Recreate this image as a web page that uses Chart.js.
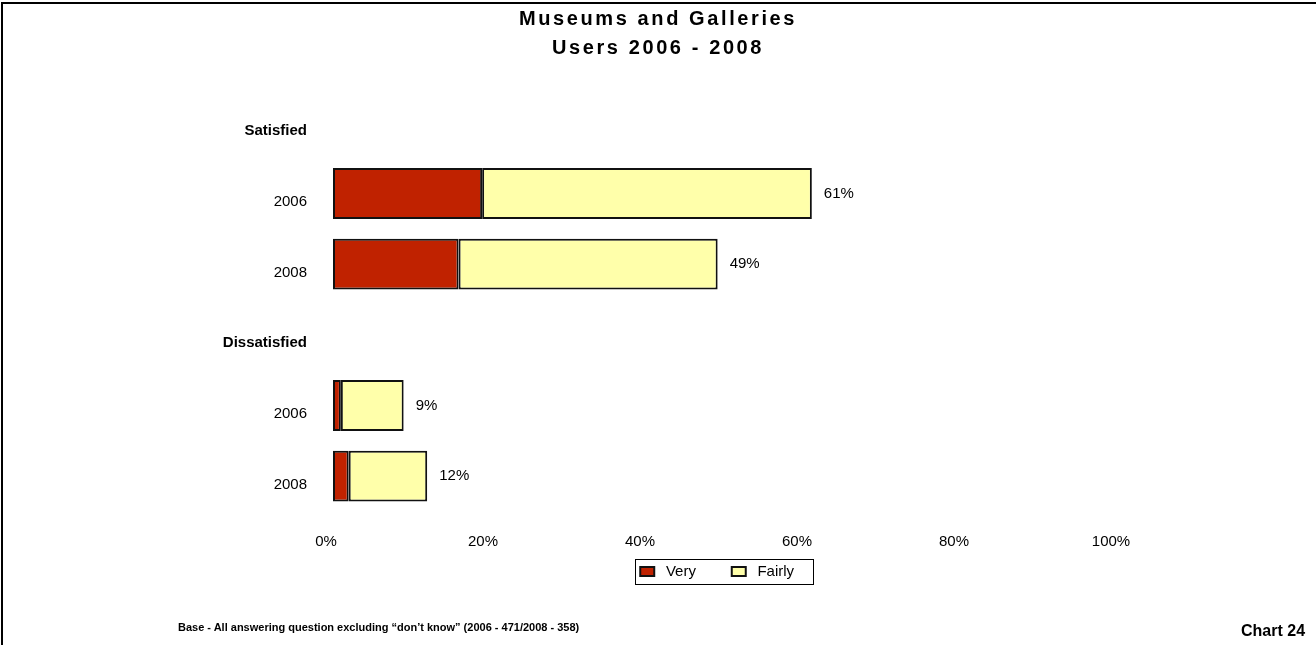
<!DOCTYPE html>
<html>
<head>
<meta charset="utf-8">
<title>Museums and Galleries</title>
<script src="https://cdn.jsdelivr.net/npm/chart.js@4/dist/chart.umd.min.js"></script>
<style>
  html, body { margin: 0; padding: 0; background: #fff; }
  #page { position: relative; width: 1316px; height: 645px; overflow: hidden; font-family: "Liberation Sans", Arial, sans-serif; color: #000; }
  #frame { position: absolute; left: 1px; top: 2px; right: -4px; bottom: -4px; border-top: 2px solid #000; border-left: 2px solid #000; }
  #chart { position: absolute; left: 0; top: 0; }
  #title { position: absolute; left: 0; width: 1316px; top: 4px; text-align: center; font-weight: bold; font-size: 20px; line-height: 29px; letter-spacing: 2.6px; }
  #base { position: absolute; left: 178px; top: 621px; font-weight: bold; font-size: 11px; }
  #chartno { position: absolute; left: 1241px; top: 622px; font-weight: bold; font-size: 16px; }
</style>
</head>
<body>
<div id="page">
  <div id="frame"></div>
  <canvas id="chart" width="1316" height="645"></canvas>
  <div id="title">Museums and Galleries<br>Users 2006 - 2008</div>
  <div id="base">Base - All answering question excluding “don’t know” (2006 - 471/2008 - 358)</div>
  <div id="chartno">Chart 24</div>
</div>
<script>
const categories = ['Satisfied', '2006', '2008', 'Dissatisfied', '2006', '2008'];
const headerRows = [0, 3];
const very   = [null, 19, 16, null, 1, 2];
const fairly = [null, 42, 33, null, 8, 10];
const xTicks = [0, 20, 40, 60, 80, 100];

const FONT = '"Liberation Sans", Arial, sans-serif';

// total of each bar, written just past its end
const totalLabels = {
  id: 'totalLabels',
  afterDatasetsDraw(chart) {
    const ctx = chart.ctx;
    const meta = chart.getDatasetMeta(1);
    ctx.save();
    ctx.font = '15px ' + FONT;
    ctx.fillStyle = '#000';
    ctx.textAlign = 'left';
    ctx.textBaseline = 'middle';
    meta.data.forEach((bar, i) => {
      if (very[i] == null) return;
      const total = very[i] + fairly[i];
      ctx.fillText(total + '%', bar.x + 12, bar.y);
    });
    ctx.restore();
  }
};

// thin box round the legend items
const legendFrame = {
  id: 'legendFrame',
  afterDraw(chart) {
    const boxes = chart.legend.legendHitBoxes;
    if (!boxes || !boxes.length) return;
    const first = boxes[0], last = boxes[boxes.length - 1];
    const x0 = first.left - 5, x1 = last.left + last.width + 2;
    const y0 = first.top - 5, y1 = first.top + first.height + 5;
    const ctx = chart.ctx;
    ctx.save();
    ctx.strokeStyle = '#000';
    ctx.lineWidth = 1;
    ctx.strokeRect(Math.round(x0) + 0.5, Math.round(y0) + 0.5, Math.round(x1 - x0), Math.round(y1 - y0));
    ctx.restore();
  }
};

new Chart(document.getElementById('chart'), {
  type: 'bar',
  data: {
    labels: categories,
    datasets: [
      { label: ' Very     ', data: very, backgroundColor: '#c02200', borderColor: '#111', borderWidth: 2, borderSkipped: false, barPercentage: 0.72, categoryPercentage: 1 },
      { label: ' Fairly    ', data: fairly, backgroundColor: '#ffffaa', borderColor: '#111', borderWidth: 2, borderSkipped: false, barPercentage: 0.72, categoryPercentage: 1 }
    ]
  },
  options: {
    indexAxis: 'y',
    responsive: false,
    animation: false,
    layout: { padding: { left: 0, right: 198, top: 87.5, bottom: 56 } },
    scales: {
      x: {
        stacked: true,
        min: 0,
        max: 100,
        afterBuildTicks: s => { s.ticks = xTicks.map(v => ({ value: v })); },
        afterFit: s => { s.height = 37.5; },
        grid: { display: false, drawTicks: false },
        border: { display: false },
        ticks: { color: '#000', font: { family: FONT, size: 15 }, padding: 21.5, labelOffset: -7, callback: v => v + '%' }
      },
      y: {
        stacked: true,
        afterFit: s => { s.width = 333; },
        grid: { display: false, drawTicks: false },
        border: { display: false },
        ticks: {
          color: '#000',
          padding: 26,
          labelOffset: 8.5,
          font: c => ({ family: FONT, size: 15, weight: headerRows.includes(c.index) ? 'bold' : 'normal' })
        }
      }
    },
    plugins: {
      title: { display: false },
      tooltip: { enabled: false },
      legend: {
        position: 'bottom',
        fullSize: false,
        labels: { color: '#000', boxWidth: 14, boxHeight: 9, padding: 15, font: { family: FONT, size: 15 } }
      }
    }
  },
  plugins: [totalLabels, legendFrame]
});
</script>
</body>
</html>
